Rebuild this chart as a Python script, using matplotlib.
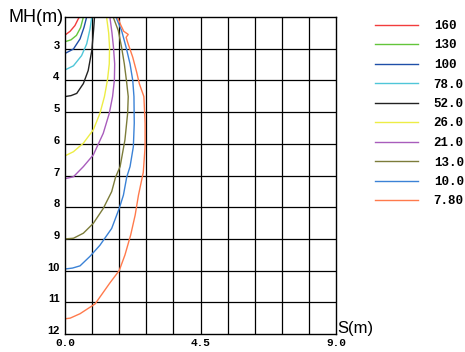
import numpy as np
import matplotlib
matplotlib.use("Agg")
import matplotlib.pyplot as plt

# isolux levels and curve colours
levels = ["160", "130", "100", "78.0", "52.0", "26.0", "21.0", "13.0", "10.0", "7.80"]
colors = ["#f23c3c", "#63c53a", "#1f4fa8", "#4fc6d8", "#222222",
          "#eded45", "#a85cbc", "#7c7c3a", "#3b82d6", "#ff7a4c"]

# curves: S (m) and MH (m)
s160 = [0, 0.17, 0.33, 0.44, 0.48]
h160 = [2.57, 2.45, 2.27, 2.06, 2.0]
s130 = [0, 0.2, 0.38, 0.52, 0.61]
h130 = [2.78, 2.72, 2.58, 2.33, 2.0]
s100 = [0, 0.28, 0.5, 0.63, 0.72]
h100 = [3.15, 3.01, 2.69, 2.33, 2.0]
s78 = [0, 0.28, 0.55, 0.72, 0.83, 0.89]
h78 = [3.67, 3.54, 3.22, 2.85, 2.38, 2.0]
s52 = [0, 0.2, 0.39, 0.61, 0.77, 0.89, 0.95, 0.98]
h52 = [4.51, 4.48, 4.41, 4.1, 3.69, 3.06, 2.4, 2.0]
s26 = [0, 0.28, 0.61, 0.94, 1.16, 1.31, 1.41, 1.47, 1.48, 1.45, 1.38]
h26 = [6.38, 6.25, 5.98, 5.56, 5.04, 4.51, 3.99, 3.48, 2.96, 2.5, 2.0]
s21 = [0, 0.28, 0.61, 0.94, 1.27, 1.47, 1.58, 1.64, 1.65, 1.61, 1.56, 1.49]
h21 = [7.1, 7.04, 6.72, 6.35, 5.67, 5.04, 4.51, 3.99, 3.48, 2.96, 2.5, 2.0]
s13 = [0, 0.28, 0.61, 0.94, 1.27, 1.55, 1.68, 1.83, 1.99, 2.08, 2.1, 2.04,
       1.97, 1.88, 1.77, 1.6]
h13 = [9.0, 8.98, 8.82, 8.51, 8.04, 7.51, 7.05, 6.72, 5.88, 5.04, 4.51, 4.0,
       3.48, 2.96, 2.43, 2.0]
s10 = [0, 0.25, 0.5, 0.83, 1.16, 1.55, 1.8, 1.94, 2.05, 2.16, 2.27, 2.3, 2.29,
       2.25, 2.16, 2.03, 1.88, 1.69]
h10 = [9.95, 9.92, 9.85, 9.55, 9.2, 8.67, 8.04, 7.62, 7.05, 6.72, 6.09, 5.35,
       4.51, 4.0, 3.48, 2.96, 2.43, 2.0]
s78b = [0, 0.17, 0.5, 1.0, 1.49, 1.8, 1.99, 2.18, 2.33, 2.44, 2.6, 2.66, 2.66,
        2.62, 2.47, 2.38, 2.25, 2.08, 2.03, 2.1, 1.95, 1.85, 1.74]
h78b = [11.52, 11.5, 11.36, 11.05, 10.39, 10.0, 9.51, 8.88, 8.25, 7.62, 6.9,
        6.09, 5.35, 4.51, 4.11, 3.74, 3.27, 2.8, 2.64, 2.55, 2.45, 2.25, 2.0]

curves = [(s160, h160), (s130, h130), (s100, h100), (s78, h78), (s52, h52),
          (s26, h26), (s21, h21), (s13, h13), (s10, h10), (s78b, h78b)]

xtick_vals = [0.0, 4.5, 9.0]
xtick_labels = ["0.0", "4.5", "9.0"]
ytick_vals = [3, 4, 5, 6, 7, 8, 9, 10, 11, 12]

fig = plt.figure(figsize=(4.65, 3.52), dpi=100)
ax = fig.add_axes([65 / 465, 1 - 334 / 352, 271 / 465, 317 / 352])

for (s, h), c, lab in zip(curves, colors, levels):
    ax.plot(s, h, color=c, lw=1.0, label=lab)

ax.set_xlim(0, 9)
ax.set_ylim(12, 2)
for gx in np.arange(0.9, 9.0, 0.9):
    ax.axvline(gx, color="black", lw=0.9, zorder=0)
for gy in range(3, 12):
    ax.axhline(gy, color="black", lw=0.9, zorder=0)
for sp in ax.spines.values():
    sp.set_color("black")
    sp.set_linewidth(1.0)

ax.set_xticks(xtick_vals)
ax.set_xticklabels(xtick_labels, family="Liberation Mono", fontweight="bold", fontsize=8)
ax.set_yticks(ytick_vals)
ax.set_yticklabels([str(v) for v in ytick_vals], fontweight="bold", fontsize=8,
                   family="Liberation Sans")
for t in ax.get_yticklabels():
    t.set_va("baseline")
ax.tick_params(length=0, pad=3)
ax.tick_params(axis="y", pad=4)

fig.text(8 / 465, 1 - 17 / 352, "MH(m)", fontsize=13, family="Liberation Sans", va="center")
fig.text(337 / 465, 1 - 328 / 352, "S(m)", fontsize=12, family="Liberation Sans", va="center")

fig.legend(loc="upper left", bbox_to_anchor=(375 / 465, 1 - 20 / 352), frameon=False,
           borderpad=0, borderaxespad=0, handlelength=3.4, handletextpad=1.3,
           labelspacing=0.6, prop={"family": "Liberation Mono", "weight": "bold", "size": 9})

fig.savefig("out.png", dpi=100)
